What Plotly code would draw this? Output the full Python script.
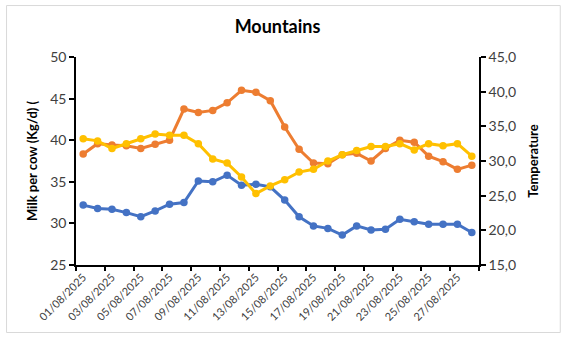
import plotly.graph_objects as go

# Daily dates for August 2025
dates = [f"{d:02d}/08/2025" for d in range(1, 29)]

# Milk per cow (kg/day) - left axis
milk = [32.2, 31.8, 31.7, 31.3, 30.8, 31.5, 32.3, 32.5, 35.1, 35.0,
        35.8, 34.6, 34.7, 34.4, 32.8, 30.8, 29.7, 29.4, 28.6, 29.7,
        29.2, 29.3, 30.5, 30.2, 29.9, 29.9, 29.9, 28.9]

# Temperature series - right axis
temp_orange = [31.0, 32.5, 32.3, 32.2, 31.8, 32.4, 33.0, 37.5, 37.0, 37.3,
               38.4, 40.2, 39.9, 38.7, 34.9, 31.7, 29.7, 29.6, 30.9, 31.1,
               30.0, 31.8, 33.0, 32.7, 30.7, 29.9, 28.8, 29.4]
temp_yellow = [33.2, 32.9, 31.8, 32.5, 33.2, 33.9, 33.7, 33.7, 32.5, 30.3,
               29.7, 27.7, 25.3, 26.4, 27.3, 28.4, 28.8, 30.0, 30.9, 31.5,
               32.1, 32.1, 32.5, 31.6, 32.5, 32.2, 32.5, 30.7]

idx = list(range(len(dates)))
label_idx = idx[::2]
label_txt = [dates[i] for i in label_idx]
boundaries = [i - 0.5 for i in range(0, len(dates) + 1, 2)]

FONT = "Lato, 'Open Sans', sans-serif"
TICK_COL = "#404040"

fig = go.Figure()

def series(y, color, axis):
    return go.Scatter(
        x=idx, y=y, yaxis=axis, mode="lines+markers",
        line=dict(color=color, width=3),
        marker=dict(color=color, size=7.5),
        showlegend=False, hoverinfo="skip",
    )

fig.add_trace(series(milk, "#4472C4", "y"))
fig.add_trace(series(temp_orange, "#ED7D31", "y2"))
fig.add_trace(series(temp_yellow, "#FFC000", "y2"))

# invisible trace carrying the tick-mark axis between category pairs
fig.add_trace(go.Scatter(x=[idx[0]], y=[milk[0]], xaxis="x3", yaxis="y",
                         mode="markers", marker=dict(opacity=0),
                         showlegend=False, hoverinfo="skip"))

xr = [-0.5, len(dates) - 0.5]

fig.update_layout(
    width=565, height=342,
    margin=dict(l=75.5, r=86.3, t=57.3, b=77.3),
    paper_bgcolor="white", plot_bgcolor="white",
    separators=", ",
    title=dict(text="<b>Mountains</b>", x=0.5, xref="paper", xanchor="center",
               y=1 - 27 / 342, yanchor="middle",
               font=dict(family=FONT, size=18, color="#000")),
    xaxis=dict(range=xr, tickmode="array", tickvals=label_idx, ticktext=label_txt,
               tickangle=-45, ticks="", showgrid=False, zeroline=False,
               showline=True, linecolor="#000", linewidth=1.5,
               tickfont=dict(family=FONT, size=11, color=TICK_COL)),
    xaxis3=dict(range=xr, overlaying="x", anchor="y", tickmode="array",
                tickvals=boundaries, ticks="outside", ticklen=5, tickwidth=1.5,
                tickcolor="#000", showticklabels=False, showgrid=False,
                zeroline=False, showline=False),
    yaxis=dict(range=[25, 50], dtick=5, tick0=25, ticks="outside", ticklen=5,
               tickwidth=1.5, tickcolor="#000", showgrid=False, zeroline=False,
               showline=True, linecolor="#000", linewidth=1.5,
               tickfont=dict(family=FONT, size=14, color=TICK_COL),
               title=dict(text="<b>Milk per cow (Kg/d) (</b>", standoff=10,
                          font=dict(family=FONT, size=13, color="#000"))),
    yaxis2=dict(range=[15, 45], dtick=5, tick0=15, tickformat=".1f",
                overlaying="y", side="right", anchor="x",
                ticks="outside", ticklen=5, tickwidth=1.5, tickcolor="#000",
                showgrid=False, zeroline=False,
                showline=True, linecolor="#000", linewidth=1.5,
                tickfont=dict(family=FONT, size=14, color=TICK_COL),
                title=dict(text="<b>Temperature</b>", standoff=14,
                           font=dict(family=FONT, size=13, color="#000"))),
    shapes=[dict(type="rect", xref="paper", yref="paper",
                 x0=(6 - 75.5) / 403.2, x1=(560 - 75.5) / 403.2,
                 y0=(264.7 - 332) / 207.4, y1=(264.7 - 6) / 207.4,
                 line=dict(color="#D9D9D9", width=1), layer="below")],
)

fig.write_html("out.html")
